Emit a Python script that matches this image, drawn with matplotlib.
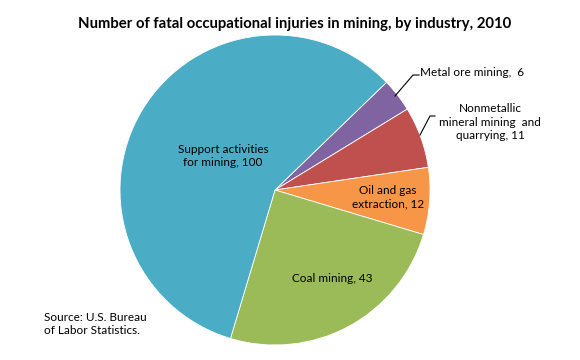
import matplotlib
matplotlib.use("Agg")
import matplotlib.pyplot as plt

labels = ["Metal ore mining,  6", "Nonmetallic\nmineral mining  and\nquarrying, 11",
          "Oil and gas\nextraction, 12", "Coal mining, 43", "Support activities\nfor mining, 100"]
values = [6, 11, 12, 43, 100]
colors = ["#8064A2", "#C0504D", "#F79646", "#9BBB59", "#4BACC6"]
title = "Number of fatal occupational injuries in mining, by industry, 2010"
source = "Source: U.S. Bureau\nof Labor Statistics."

plt.rcParams['font.family'] = ['Lato', 'DejaVu Sans']
W, H = 580, 360
fig = plt.figure(figsize=(W/100, H/100), dpi=100)
cx, cy, r = 275, 190, 155
ax = fig.add_axes([(cx - r)/W, (H - cy - r)/H, 2*r/W, 2*r/H])
ax.pie(values, colors=colors, startangle=44, counterclock=False, radius=1,
       wedgeprops=dict(edgecolor="white", linewidth=0.6))
ax.set_xlim(-1, 1); ax.set_ylim(-1, 1)
ax.set_aspect('auto')
ax.axis('off')

def d(px, py):
    return ((px - cx)/r, (cy - py)/r)

fs = 8.5
# label positions (pixel centers)
ax.text(*d(420, 73), labels[0], ha='left', va='center', fontsize=fs)
ax.text(*d(490, 122), labels[1], ha='center', va='center', fontsize=fs, linespacing=1.25)
ax.text(*d(388, 197), labels[2], ha='center', va='center', fontsize=fs, linespacing=1.25)
ax.text(*d(332, 278), labels[3], ha='center', va='center', fontsize=fs)
ax.text(*d(223, 156), labels[4], ha='center', va='center', fontsize=fs, linespacing=1.25)

# leader lines
for pts in ([(395, 96), (413, 75), (419, 75)], [(420, 135), (430, 116), (435, 116)]):
    xs, ys = zip(*[d(*p) for p in pts])
    ax.plot(xs, ys, color="black", lw=0.8, clip_on=False)

fig.text(294.5/W, 1 - 24/H, title, ha='center', va='center', fontsize=10.7, fontweight='bold')
fig.text(44/W, 1 - 324/H, source, ha='left', va='center', fontsize=fs, linespacing=1.25)

fig.savefig("out.png", dpi=100)
